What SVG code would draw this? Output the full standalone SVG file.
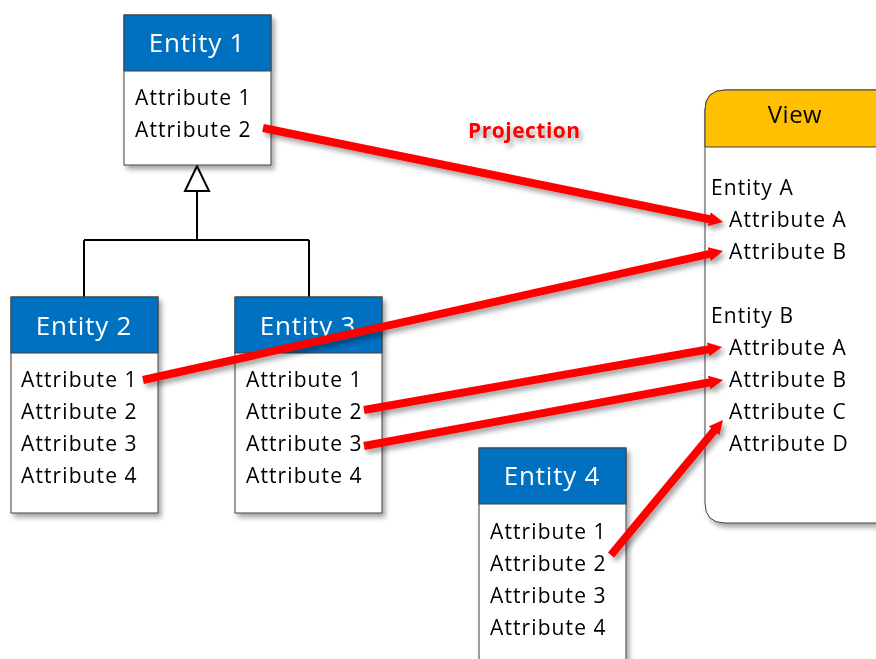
<svg xmlns="http://www.w3.org/2000/svg" width="876" height="659" viewBox="0 0 876 659">
<style>
.box{fill:#fff;stroke:#404040;stroke-width:1}
.hdr{fill:#0070C0;stroke:#404040;stroke-width:1}
.ttl{font-family:"Open Sans","Liberation Sans",sans-serif;font-size:26px;fill:#fff;text-anchor:middle;letter-spacing:0.8px}
.att{font-family:"Open Sans","Liberation Sans",sans-serif;font-size:21px;fill:#000;letter-spacing:1.1px}
.inh{fill:none;stroke:#000;stroke-width:2}
.proj{fill:none;stroke:#FF0000;stroke-width:8}
.lbl{font-family:"Open Sans","Liberation Sans",sans-serif;font-size:21px;font-weight:bold;fill:#FF0000;letter-spacing:0.5px}
</style>
<defs>
<filter id="sh" x="-20%" y="-20%" width="140%" height="140%">
<feDropShadow dx="3" dy="4" stdDeviation="2.5" flood-color="#000" flood-opacity="0.35"/>
</filter>
<marker id="ah" viewBox="0 0 14 14" markerUnits="userSpaceOnUse" markerWidth="14" markerHeight="14" refX="4" refY="7" orient="auto">
<path d="M0,0 L14,7 L0,14 z" fill="#FF0000"/>
</marker>
</defs>
<rect width="876" height="659" fill="#fff"/>

<g id="inheritance">
<path class="inh" d="M197,191 V240 M84,240 H309 M84,240 V297 M309,240 V297"/>
<polygon points="197,166 185,191 209,191" fill="#fff" stroke="#000" stroke-width="2"/>
</g>

<g id="entity1" filter="url(#sh)">
<rect class="box" x="124" y="15" width="147" height="150"/>
<rect class="hdr" x="124" y="15" width="147" height="56"/>
<text class="ttl" x="197" y="52">Entity 1</text>
<text class="att" x="135" y="105">Attribute 1</text>
<text class="att" x="135" y="137">Attribute 2</text>
</g>

<g id="entity2" filter="url(#sh)">
<rect class="box" x="11" y="297" width="147" height="216"/>
<rect class="hdr" x="11" y="297" width="147" height="56"/>
<text class="ttl" x="84" y="335">Entity 2</text>
<text class="att" x="21" y="387">Attribute 1</text>
<text class="att" x="21" y="419">Attribute 2</text>
<text class="att" x="21" y="451">Attribute 3</text>
<text class="att" x="21" y="483">Attribute 4</text>
</g>

<g id="entity3" filter="url(#sh)">
<rect class="box" x="235" y="297" width="147" height="216"/>
<rect class="hdr" x="235" y="297" width="147" height="56"/>
<text class="ttl" x="308" y="335">Entity 3</text>
<text class="att" x="246" y="387">Attribute 1</text>
<text class="att" x="246" y="419">Attribute 2</text>
<text class="att" x="246" y="451">Attribute 3</text>
<text class="att" x="246" y="483">Attribute 4</text>
</g>

<g id="entity4" filter="url(#sh)">
<rect class="box" x="479" y="448" width="147" height="230"/>
<rect class="hdr" x="479" y="448" width="147" height="56"/>
<text class="ttl" x="552" y="485">Entity 4</text>
<text class="att" x="490" y="539">Attribute 1</text>
<text class="att" x="490" y="571">Attribute 2</text>
<text class="att" x="490" y="603">Attribute 3</text>
<text class="att" x="490" y="635">Attribute 4</text>
</g>

<g id="view" filter="url(#sh)">
<path d="M725,90 H900 V523 H725 Q705,523 705,503 V110 Q705,90 725,90 Z" fill="#fff" stroke="#404040" stroke-width="1"/>
<path d="M725,90 H900 V147 H705 V110 Q705,90 725,90 Z" fill="#FFC000" stroke="#404040" stroke-width="1"/>
<text x="795" y="123" style="font-family:'Open Sans','Liberation Sans',sans-serif;font-size:24px;fill:#000;text-anchor:middle;letter-spacing:0.5px">View</text>
<text class="att" x="711" y="195">Entity A</text>
<text class="att" x="729" y="227">Attribute A</text>
<text class="att" x="729" y="259">Attribute B</text>
<text class="att" x="711" y="323">Entity B</text>
<text class="att" x="729" y="355">Attribute A</text>
<text class="att" x="729" y="387">Attribute B</text>
<text class="att" x="729" y="419">Attribute C</text>
<text class="att" x="729" y="451">Attribute D</text>
</g>

<g id="connectors" filter="url(#sh)">
<line class="proj" x1="263" y1="128" x2="713.2" y2="220" marker-end="url(#ah)"/>
<line class="proj" x1="143" y1="380" x2="713.2" y2="253.2" marker-end="url(#ah)"/>
<line class="proj" x1="364" y1="410" x2="712.2" y2="348.7" marker-end="url(#ah)"/>
<line class="proj" x1="364" y1="446" x2="713.2" y2="381.8" marker-end="url(#ah)"/>
<line class="proj" x1="611" y1="555" x2="716.6" y2="427.7" marker-end="url(#ah)"/>
<text class="lbl" x="468" y="138">Projection</text>
</g>
</svg>
